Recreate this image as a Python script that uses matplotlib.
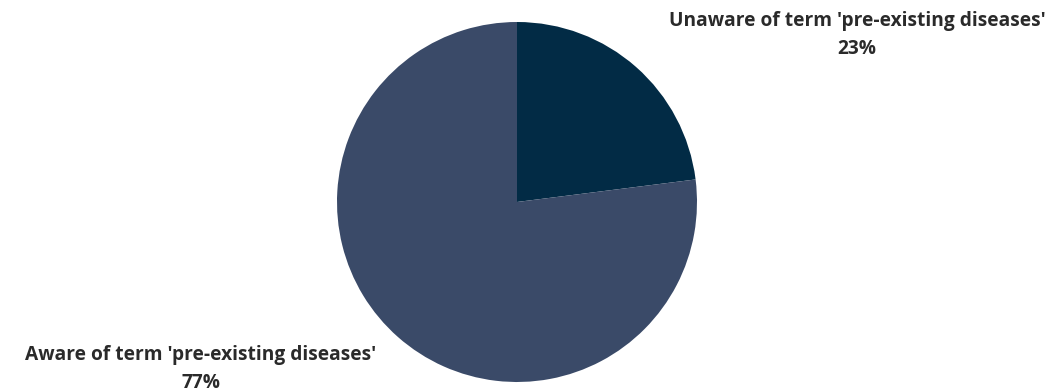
import matplotlib
matplotlib.use("Agg")
import matplotlib.pyplot as plt

# Data
labels = ["Unaware of term 'pre-existing diseases'", "Aware of term 'pre-existing diseases'"]
shares = [23, 77]
colors = ["#022b45", "#3a4a68"]

W, H = 1052, 392
fig = plt.figure(figsize=(W / 100, H / 100), dpi=100)
ax = fig.add_axes([0, 0, 1, 1])

# pie drawn clockwise from 12 o'clock, first slice is "Unaware"
ax.pie(shares, colors=colors, startangle=90, counterclock=False,
       center=(517, H - 202), radius=180,
       wedgeprops=dict(linewidth=0))

# pie() resets the limits, so set them afterwards
ax.set_xlim(0, W)
ax.set_ylim(0, H)
ax.set_aspect("equal")
ax.axis("off")

txt = dict(ha="center", va="center", fontsize=13.8, fontweight="bold",
           color="#2a2a2a", family=["Open Sans", "DejaVu Sans"], linespacing=1.5)
ax.text(857, H - 35, f"{labels[0]}\n{shares[0]}%", **txt)
ax.text(201, H - 369, f"{labels[1]}\n{shares[1]}%", **txt)

fig.savefig("out.png", dpi=100)
